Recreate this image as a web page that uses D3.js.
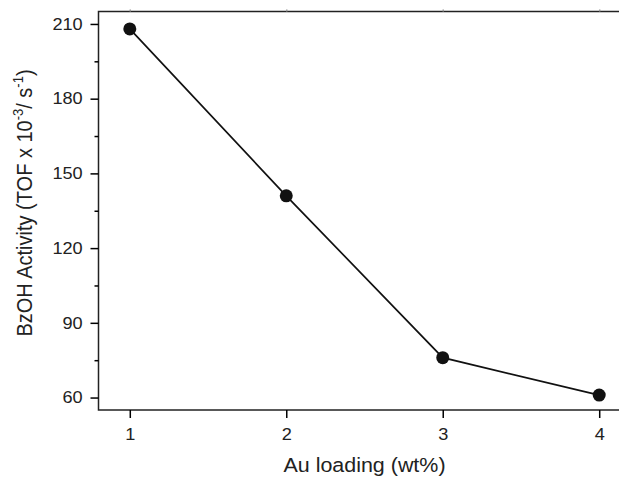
<!DOCTYPE html>
<html>
<head>
<meta charset="utf-8">
<script src="https://cdn.jsdelivr.net/npm/d3@7"></script>
<style>
  body { margin: 0; background: #fff; }
  text { font-family: "Liberation Sans", Arial, sans-serif; fill: #222; }
</style>
</head>
<body>
<svg id="chart" width="619" height="478"></svg>
<script>
// data
var loadings = [1, 2, 3, 4];
var activity = [208, 141, 76, 61];
var yTicks = [60, 90, 120, 150, 180, 210];
var yMinor = [75, 105, 135, 165, 195];

var SX = 1.1; // the original is a bit stretched sideways

var svg = d3.select("#chart");

var x = d3.scaleLinear().domain([0.8, 4.2]).range([98.5, 630.5]);
var y = d3.scaleLinear().domain([55, 215]).range([410, 11.5]);

// frame
svg.append("rect")
  .attr("x", x(0.8)).attr("y", y(215))
  .attr("width", x(4.2) - x(0.8)).attr("height", y(55) - y(215))
  .attr("fill", "none").attr("stroke", "#222").attr("stroke-width", 1.5);

// y axis
var yAxis = svg.append("g").attr("transform", "translate(" + x(0.8) + ",0)")
  .call(d3.axisLeft(y).tickValues(yTicks).tickSize(8).tickPadding(7));
yAxis.selectAll(".tick text").attr("x", -15.8 / SX).attr("transform", "scale(" + SX + ",1)");
svg.append("g").attr("transform", "translate(" + x(0.8) + ",0)")
  .call(d3.axisLeft(y).tickValues(yMinor).tickSize(4).tickFormat(""))
  .call(function(g){ g.select(".domain").remove(); });

// x axis
var xAxis = svg.append("g").attr("transform", "translate(0," + y(55) + ")")
  .call(d3.axisBottom(x).tickValues(loadings).tickSize(8).tickFormat(d3.format("d")));
xAxis.selectAll(".tick text").attr("y", 30).attr("dy", null).attr("transform", "scale(" + SX + ",1)");

// tiny top ticks
svg.append("g").attr("transform", "translate(0," + y(215) + ")")
  .call(d3.axisTop(x).tickValues(loadings).tickSize(2).tickFormat(""))
  .call(function(g){ g.select(".domain").remove(); g.selectAll("line").attr("stroke", "#999"); });

svg.selectAll(".domain").attr("stroke", "none");
svg.selectAll(".tick line").attr("stroke-width", 1.5);
svg.selectAll(".tick text").attr("font-size", 16.5).attr("fill", "#222")
  .style("font-family", "'Liberation Sans', Arial, sans-serif");

// line + markers
var pts = loadings.map(function(d, i){ return [d, activity[i]]; });
svg.append("path")
  .datum(pts)
  .attr("fill", "none").attr("stroke", "#111").attr("stroke-width", 1.7)
  .attr("d", d3.line().x(function(d){ return x(d[0]); }).y(function(d){ return y(d[1]); }));

svg.selectAll("circle.pt").data(pts).enter().append("circle")
  .attr("class", "pt")
  .attr("cx", function(d){ return x(d[0]); })
  .attr("cy", function(d){ return y(d[1]); })
  .attr("r", 6.5).attr("fill", "#111");

// axis titles
svg.append("text")
  .attr("transform", "translate(364.5,472) scale(" + SX + ",1)")
  .attr("text-anchor", "middle").attr("font-size", 19.5)
  .text("Au loading (wt%)");

var yl = svg.append("text")
  .attr("transform", "translate(32,203) scale(" + SX + ",1) rotate(-90)")
  .attr("text-anchor", "middle").attr("font-size", 20);
yl.append("tspan").text("BzOH Activity (TOF x 10");
yl.append("tspan").attr("dy", -8).attr("font-size", 13).text("-3");
yl.append("tspan").attr("dy", 8).text("/ s");
yl.append("tspan").attr("dy", -8).attr("font-size", 13).text("-1");
yl.append("tspan").attr("dy", 8).text(")");
</script>
</body>
</html>
